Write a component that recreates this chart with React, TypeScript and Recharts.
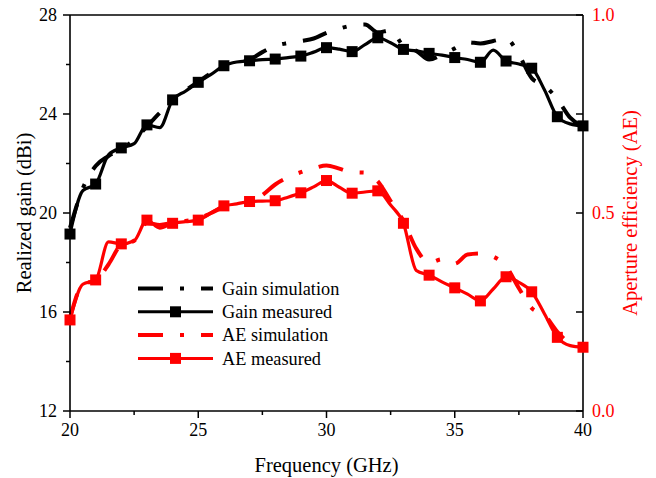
import React from 'react';
import { LineChart, Line, XAxis, YAxis, Legend } from 'recharts';

const freq = [20, 20.5, 21, 21.5, 22, 22.5, 23, 23.5, 24, 24.5, 25, 25.5, 26, 26.5, 27, 27.5, 28, 28.5, 29, 29.5, 30, 30.5, 31, 31.5, 32, 32.5, 33, 33.5, 34, 34.5, 35, 35.5, 36, 36.5, 37, 37.5, 38, 38.5, 39, 39.5, 40];

const gainSim = [19.4, 21.0, 21.9, 22.3, 22.6, 22.95, 23.5, 24.05, 24.55, 24.95, 25.3, 25.65, 25.95, 26.1, 26.2, 26.5, 26.75, 26.87, 26.95, 27.05, 27.28, 27.45, 27.58, 27.62, 27.3, 27.38, 26.75, 26.55, 26.2, 26.4, 26.65, 26.9, 26.85, 26.95, 27.05, 26.4, 25.45, 25.15, 24.6, 23.85, 23.5];

const gainMeas = [19.15, 20.9, 21.17, 22.35, 22.63, 22.8, 23.56, 23.45, 24.57, 24.92, 25.28, 25.6, 25.95, 26.1, 26.15, 26.2, 26.22, 26.28, 26.34, 26.5, 26.68, 26.62, 26.52, 26.8, 27.08, 26.88, 26.61, 26.55, 26.45, 26.38, 26.28, 26.2, 26.09, 26.58, 26.14, 26.02, 25.85, 24.97, 23.89, 23.6, 23.52];

const aeSim = [0.235, 0.32, 0.33, 0.37, 0.42, 0.43, 0.475, 0.47, 0.475, 0.48, 0.485, 0.5, 0.515, 0.52, 0.525, 0.545, 0.572, 0.59, 0.603, 0.613, 0.62, 0.612, 0.603, 0.602, 0.58, 0.53, 0.48, 0.41, 0.374, 0.383, 0.372, 0.395, 0.398, 0.39, 0.365, 0.31, 0.26, 0.242, 0.2, 0.17, 0.16];

const aeMeas = [0.23, 0.32, 0.331, 0.427, 0.422, 0.43, 0.482, 0.462, 0.474, 0.478, 0.482, 0.5, 0.518, 0.523, 0.529, 0.53, 0.531, 0.54, 0.551, 0.566, 0.582, 0.565, 0.55, 0.553, 0.556, 0.52, 0.474, 0.355, 0.343, 0.326, 0.311, 0.295, 0.278, 0.308, 0.339, 0.325, 0.301, 0.245, 0.186, 0.165, 0.161];

const xTicks = [20, 22.5, 25, 27.5, 30, 32.5, 35, 37.5, 40];
const xMajor = [20, 25, 30, 35, 40];
const yLeftTicks = [12, 14, 16, 18, 20, 22, 24, 26, 28];
const yLeftMajor = [12, 16, 20, 24, 28];
const yRightTicks = [0, 0.25, 0.5, 0.75, 1];
const yRightMajor = [0, 0.5, 1];

const legendLabels = ['Gain simulation', 'Gain measured', 'AE simulation', 'AE measured'];
const legendColors = ['#000000', '#000000', '#ff0000', '#ff0000'];
const legendDashed = [true, false, true, false];

const RED = '#ff0000';
const FONT = '"Liberation Serif", "Times New Roman", serif';
const DASH = '25 17 4 17';

const rows = freq.map((f, i) => ({
  f,
  gainSim: gainSim[i],
  gainMeas: gainMeas[i],
  aeSim: aeSim[i],
  aeMeas: aeMeas[i],
}));

const BottomTick = (props: any) => {
  const { x, y, payload } = props;
  const major = xMajor.includes(payload.value);
  return (
    <g>
      <line x1={x} x2={x} y1={y} y2={y + (major ? 7 : 4)} stroke="#000" strokeWidth={1.5} />
      {major && (
        <text x={x} y={y + 25} textAnchor="middle" style={{ fontSize: 18, fontFamily: FONT }} fill="#000">
          {payload.value}
        </text>
      )}
    </g>
  );
};

const LeftTick = (props: any) => {
  const { x, y, payload } = props;
  const major = yLeftMajor.includes(payload.value);
  return (
    <g>
      <line x1={x - (major ? 7 : 4)} x2={x} y1={y} y2={y} stroke="#000" strokeWidth={1.5} />
      {major && (
        <text x={x - 13} y={y} dy="0.34em" textAnchor="end" style={{ fontSize: 18, fontFamily: FONT }} fill="#000">
          {payload.value}
        </text>
      )}
    </g>
  );
};

const makeSquare = (color: string) => (props: any) => {
  const { cx, cy, payload, index } = props;
  if (!Number.isInteger(payload.f)) return <g key={`e${index}`} />;
  return <rect key={`s${index}`} x={cx - 5.5} y={cy - 5.5} width={11} height={11} fill={color} />;
};

const renderLegend = () => (
  <svg width={240} height={95} style={{ display: 'block' }}>
    {legendLabels.map((label, i) => {
      const y = 12.5 + i * 23.3;
      return (
        <g key={label}>
          <line
            x1={0}
            x2={75}
            y1={y}
            y2={y}
            stroke={legendColors[i]}
            strokeWidth={legendDashed[i] ? 4 : 3}
            strokeDasharray={legendDashed[i] ? DASH : undefined}
          />
          {!legendDashed[i] && <rect x={32} y={y - 5.5} width={11} height={11} fill={legendColors[i]} />}
          <text x={84} y={y} dy="0.34em" style={{ fontSize: 18.3, fontFamily: FONT }} fill="#000">
            {label}
          </text>
        </g>
      );
    })}
  </svg>
);

export default function App() {
  return (
    <div style={{ position: 'absolute', left: 0, top: 0, background: '#fff' }}>
      <LineChart
        width={656}
        height={478}
        data={rows}
        margin={{ top: 0, right: 0, bottom: 0, left: 0 }}
        style={{ fontFamily: FONT }}
      >
        <XAxis
          dataKey="f"
          type="number"
          domain={[20, 40]}
          ticks={xTicks}
          height={67}
          tickSize={0}
          tickMargin={0}
          tickLine={false}
          tick={<BottomTick />}
          axisLine={{ stroke: '#000', strokeWidth: 1.6 }}
          interval={0}
          label={{ value: 'Frequency (GHz)', position: 'insideBottom', offset: 6, fill: '#000', fontSize: 20.5, style: { fontSize: 20.5, fontFamily: FONT } }}
        />
        <XAxis
          xAxisId="top"
          orientation="top"
          dataKey="f"
          type="number"
          domain={[20, 40]}
          ticks={xTicks}
          height={15}
          tickSize={-7}
          tick={false}
          interval={0}
          tickLine={{ stroke: '#000', strokeWidth: 1.5 }}
          axisLine={{ stroke: '#000', strokeWidth: 1.6 }}
        />
        <YAxis
          yAxisId="left"
          domain={[12, 28]}
          ticks={yLeftTicks}
          width={70}
          tickSize={0}
          tickMargin={0}
          tickLine={false}
          tick={<LeftTick />}
          interval={0}
          axisLine={{ stroke: '#000', strokeWidth: 1.6 }}
          label={{ value: 'Realized gain (dBi)', angle: -90, position: 'insideLeft', offset: 24, fill: '#000', fontSize: 20.5, style: { textAnchor: 'middle', fontSize: 20.5, fontFamily: FONT } }}
        />
        <YAxis
          yAxisId="right"
          orientation="right"
          domain={[0, 1]}
          ticks={yRightTicks}
          width={73}
          tickSize={-7}
          tickMargin={16}
          interval={0}
          tickFormatter={(v: number) => (yRightMajor.includes(v) ? v.toFixed(1) : '')}
          tick={{ fill: RED, style: { fontSize: 18, fontFamily: FONT } }}
          tickLine={{ stroke: '#000', strokeWidth: 1.5 }}
          axisLine={{ stroke: '#000', strokeWidth: 1.6 }}
          label={{ value: 'Aperture efficiency (AE)', angle: -90, position: 'insideRight', offset: 26, fill: RED, fontSize: 20.5, style: { textAnchor: 'middle', fontSize: 20.5, fontFamily: FONT } }}
        />
        <Legend
          layout="vertical"
          align="center"
          verticalAlign="middle"
          content={renderLegend}
          wrapperStyle={{ position: 'absolute', left: 138, top: 276, width: 240, height: 95 }}
        />
        <Line yAxisId="left" dataKey="gainSim" type="monotone" stroke="#000" strokeWidth={4} strokeDasharray={DASH} dot={false} activeDot={false} isAnimationActive={false} />
        <Line yAxisId="left" dataKey="gainMeas" type="monotone" stroke="#000" strokeWidth={3.2} dot={makeSquare('#000')} activeDot={false} isAnimationActive={false} />
        <Line yAxisId="right" dataKey="aeSim" type="monotone" stroke={RED} strokeWidth={4} strokeDasharray={DASH} dot={false} activeDot={false} isAnimationActive={false} />
        <Line yAxisId="right" dataKey="aeMeas" type="monotone" stroke={RED} strokeWidth={3.2} dot={makeSquare(RED)} activeDot={false} isAnimationActive={false} />
      </LineChart>
    </div>
  );
}
